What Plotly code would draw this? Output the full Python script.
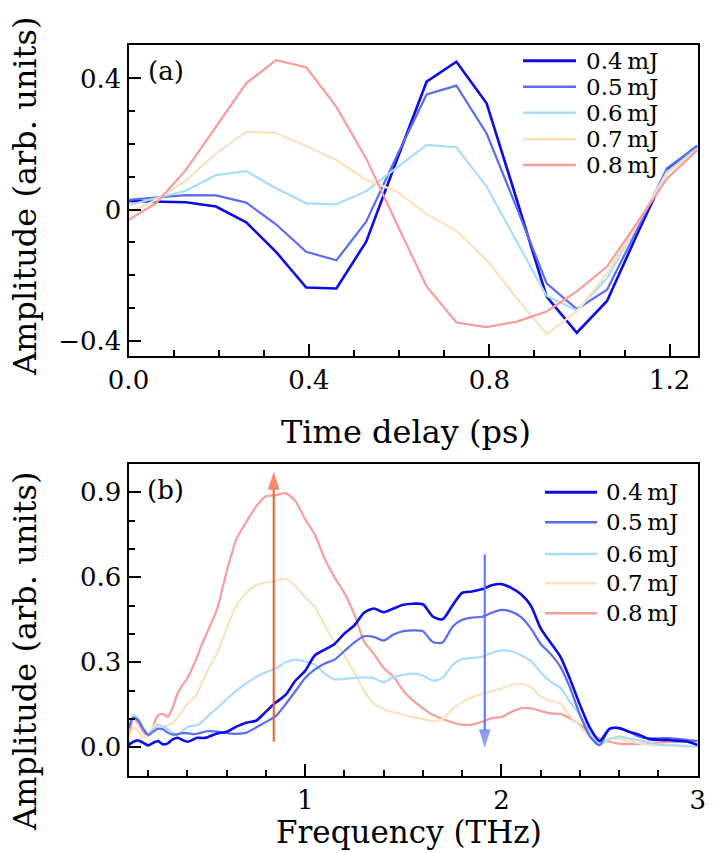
import plotly.graph_objects as go

# ---------------- Panel (a): time-domain waveforms ----------------
time_ps = [-0.006, 0.061, 0.127, 0.194, 0.261, 0.327, 0.394, 0.461, 0.527, 0.594,
           0.661, 0.727, 0.794, 0.861, 0.927, 0.994, 1.061, 1.127, 1.194, 1.261]
amp_04 = [0.026, 0.024, 0.022, 0.009, -0.039, -0.129, -0.238, -0.241, -0.098, 0.148,
          0.39, 0.451, 0.324, 0.029, -0.266, -0.376, -0.279, -0.078, 0.12, 0.194]
amp_05 = [0.029, 0.036, 0.044, 0.043, 0.021, -0.045, -0.129, -0.155, -0.037, 0.161,
          0.351, 0.378, 0.232, 0.004, -0.225, -0.304, -0.245, -0.063, 0.126, 0.194]
amp_06 = [0.012, 0.034, 0.057, 0.105, 0.117, 0.065, 0.019, 0.016, 0.056, 0.127,
          0.197, 0.19, 0.07, -0.098, -0.264, -0.308, -0.21, -0.047, 0.115, 0.187]
amp_07 = [-0.014, 0.029, 0.088, 0.171, 0.237, 0.234, 0.194, 0.151, 0.09, 0.056,
          -0.014, -0.065, -0.154, -0.271, -0.38, -0.311, -0.195, -0.047, 0.11, 0.181]
amp_08 = [-0.037, 0.019, 0.12, 0.251, 0.385, 0.456, 0.434, 0.313, 0.156, -0.041,
          -0.235, -0.345, -0.359, -0.342, -0.311, -0.25, -0.174, -0.042, 0.095, 0.181]

# ---------------- Panel (b): spectra ----------------
freq_thz = [0.1, 0.125, 0.15, 0.175, 0.2, 0.225, 0.25, 0.275, 0.3, 0.325, 0.35, 0.375,
            0.4, 0.425, 0.45, 0.475, 0.5,
            0.55, 0.6, 0.65, 0.7, 0.75, 0.8, 0.85, 0.9, 0.95, 1.0,
            1.05, 1.1, 1.15, 1.2, 1.25, 1.3, 1.35, 1.4, 1.45, 1.5,
            1.55, 1.6, 1.65, 1.7, 1.75, 1.8, 1.85, 1.9, 1.95, 2.0,
            2.05, 2.1, 2.15, 2.2, 2.25, 2.3, 2.35, 2.4, 2.45, 2.5,
            2.55, 2.6, 2.65, 2.7, 2.75, 2.8, 2.85, 2.9, 2.95, 3.0]
spec_04 = [0.008, 0.02, 0.024, 0.016, 0.007, 0.016, 0.022, 0.011, 0.014, 0.028, 0.034, 0.026,
           0.02, 0.026, 0.034, 0.033, 0.035,
           0.049, 0.055, 0.073, 0.087, 0.094, 0.126, 0.158, 0.185, 0.235, 0.27,
           0.325, 0.345, 0.365, 0.402, 0.43, 0.475, 0.49, 0.477, 0.49, 0.503,
           0.507, 0.505, 0.462, 0.452, 0.50, 0.545, 0.55, 0.558, 0.572, 0.576,
           0.563, 0.54, 0.50, 0.42, 0.37, 0.32, 0.24, 0.15, 0.07, 0.022,
           0.065, 0.068, 0.055, 0.045, 0.03, 0.027, 0.026, 0.023, 0.02, 0.008]
spec_05 = [0.067, 0.105, 0.095, 0.065, 0.044, 0.055, 0.066, 0.064, 0.052, 0.045, 0.046, 0.05,
           0.05, 0.047, 0.048, 0.053, 0.057,
           0.056, 0.05, 0.048, 0.052, 0.07, 0.09, 0.11, 0.152, 0.198, 0.245,
           0.275, 0.296, 0.31, 0.34, 0.37, 0.392, 0.39, 0.377, 0.398, 0.41,
           0.413, 0.41, 0.372, 0.37, 0.425, 0.45, 0.458, 0.461, 0.475, 0.485,
           0.479, 0.46, 0.42, 0.365, 0.33, 0.285, 0.21, 0.115, 0.04, 0.008,
           0.065, 0.068, 0.055, 0.038, 0.032, 0.032, 0.033, 0.03, 0.026, 0.022]
spec_06 = [0.061, 0.115, 0.1, 0.07, 0.047, 0.062, 0.078, 0.074, 0.064, 0.052, 0.045, 0.058,
           0.072, 0.076, 0.078, 0.09, 0.108,
           0.138, 0.17, 0.2, 0.227, 0.248, 0.265, 0.278, 0.3, 0.31, 0.303,
           0.292, 0.26, 0.24, 0.242, 0.245, 0.247, 0.244, 0.23, 0.248, 0.256,
           0.26, 0.253, 0.236, 0.245, 0.29, 0.312, 0.316, 0.32, 0.333, 0.342,
           0.34, 0.325, 0.305, 0.265, 0.232, 0.21, 0.16, 0.115, 0.055, 0.01,
           0.028, 0.038, 0.032, 0.025, 0.018, 0.01, 0.008, 0.006, 0.004, 0.003]
spec_07 = [0.028, 0.07, 0.058, 0.034, 0.045, 0.075, 0.083, 0.073, 0.078, 0.085, 0.105, 0.13,
           0.152, 0.17, 0.19, 0.23, 0.268,
           0.33, 0.42, 0.5, 0.545, 0.572, 0.582, 0.588, 0.595, 0.57, 0.53,
           0.495, 0.43, 0.37, 0.325, 0.265, 0.2, 0.155, 0.135, 0.124, 0.115,
           0.107, 0.1, 0.093, 0.1, 0.135, 0.158, 0.177, 0.188, 0.198, 0.208,
           0.22, 0.224, 0.212, 0.18, 0.165, 0.155, 0.11, 0.075, 0.035, 0.018,
           0.033, 0.03, 0.022, 0.015, 0.009, 0.008, 0.006, 0.005, 0.004, 0.003]
spec_08 = [0.014, 0.102, 0.085, 0.055, 0.04, 0.075, 0.113, 0.118, 0.108, 0.14, 0.19, 0.22,
           0.244, 0.28, 0.32, 0.365, 0.405,
           0.485, 0.62, 0.735, 0.795, 0.85, 0.886, 0.89, 0.897, 0.87, 0.805,
           0.75, 0.665, 0.6, 0.545, 0.47, 0.375, 0.33, 0.28, 0.25, 0.2,
           0.165, 0.138, 0.115, 0.1, 0.088, 0.08, 0.08, 0.09, 0.103, 0.107,
           0.125, 0.138, 0.138, 0.128, 0.12, 0.118, 0.102, 0.08, 0.052, 0.032,
           0.02, 0.013, 0.012, 0.012, 0.014, 0.018, 0.019, 0.02, 0.022, 0.024]

# arrows in panel (b): frequency, tail amplitude, head amplitude
arrow_up = [0.84, 0.02, 0.973]
arrow_down = [1.915, 0.681, 0.0]

labels = ["0.4\u2009mJ", "0.5\u2009mJ", "0.6\u2009mJ", "0.7\u2009mJ", "0.8\u2009mJ"]
colors = ["#0a0aea", "#5a6df2", "#aadcfb", "#f9e3be", "#f99c9a"]
widths = [2.6, 2.2, 2.2, 2.2, 2.2]

top_x_ticks = [0, 0.4, 0.8, 1.2]
top_x_text = ["0.0", "0.4", "0.8", "1.2"]
top_y_ticks = [-0.4, 0, 0.4]
top_y_text = ["\u22120.4", "0", "0.4"]
bot_x_ticks = [1, 2, 3]
bot_x_text = ["1", "2", "3"]
bot_y_ticks = [0.0, 0.3, 0.6, 0.9]
bot_y_text = ["0.0", "0.3", "0.6", "0.9"]

FONT = "DejaVu Serif"
W, H = 723, 853

fig = go.Figure()
for vals, c, w in zip([amp_04, amp_05, amp_06, amp_07, amp_08], colors, widths):
    fig.add_trace(go.Scatter(x=time_ps, y=vals, mode="lines", line=dict(color=c, width=w),
                             xaxis="x", yaxis="y", showlegend=False, hoverinfo="skip"))
order = [4, 3, 2, 1, 0]
spec_all = [spec_04, spec_05, spec_06, spec_07, spec_08]
for i in order:
    fig.add_trace(go.Scatter(x=freq_thz, y=spec_all[i], mode="lines",
                             line=dict(color=colors[i], width=widths[i], shape="spline", smoothing=0.7),
                             xaxis="x2", yaxis="y2", showlegend=False, hoverinfo="skip"))

for arr, col in [(arrow_up, "#ef5b2b"), (arrow_down, "#5a72f5")]:
    fig.add_trace(go.Scatter(x=[arr[0], arr[0]], y=[arr[1], arr[2]], mode="lines+markers",
                             line=dict(color=col, width=2),
                             marker=dict(symbol="arrow", size=[0, 19], color=col, angleref="previous",
                                         line=dict(width=0)),
                             xaxis="x2", yaxis="y2", showlegend=False, hoverinfo="skip"))

xdom = [128.5 / W, 697.7 / W]
common = dict(showline=True, linewidth=2, linecolor="black", mirror=True, ticks="inside",
              ticklen=12, tickwidth=2, tickcolor="black", showgrid=False, zeroline=False,
              tickfont=dict(family=FONT, size=26, color="black"), tickmode="array")
minor_y = dict(tickmode="linear", tick0=0, dtick=0.1, ticks="inside", ticklen=6,
               tickwidth=1.5, tickcolor="black")

fig.update_layout(
    width=W, height=H, margin=dict(l=0, r=0, t=0, b=0, autoexpand=False),
    paper_bgcolor="white", plot_bgcolor="white",
    xaxis=dict(domain=xdom, anchor="y", range=[0, 1.262], tickvals=top_x_ticks, ticktext=top_x_text,
               minor=minor_y, **common),
    yaxis=dict(domain=[1 - 356 / H, 1 - 45 / H], anchor="x", range=[-0.447, 0.502],
               tickvals=top_y_ticks, ticktext=top_y_text, minor=minor_y, **common),
    xaxis2=dict(domain=xdom, anchor="y2", range=[0.1, 3.0], tickvals=bot_x_ticks, ticktext=bot_x_text,
                minor=dict(tickmode="linear", tick0=0, dtick=0.2, ticks="inside", ticklen=6,
                           tickwidth=1.5, tickcolor="black"), **common),
    yaxis2=dict(domain=[1 - 776 / H, 1 - 464 / H], anchor="x2", range=[-0.101, 1.0],
                tickvals=bot_y_ticks, ticktext=bot_y_text, minor=minor_y, **common),
)

ann = []
def txt(x, y, s, size, xanchor="center", yanchor="middle", angle=0):
    ann.append(dict(x=x / W, y=1 - y / H, xref="paper", yref="paper", text=s, showarrow=False,
                    xanchor=xanchor, yanchor=yanchor, textangle=angle,
                    font=dict(family=FONT, size=size, color="black")))

txt(406, 432, "Time delay (ps)", 32)
txt(409, 832, "Frequency (THz)", 31)
txt(25, 197, "Amplitude (arb. units)", 32, angle=-90)
txt(25, 652, "Amplitude (arb. units)", 32, angle=-90)
txt(146, 71, "(a)", 26, xanchor="left")
txt(145, 490, "(b)", 26, xanchor="left")

shapes = []
top_rows = [60.7, 86.7, 112.7, 139.3, 165.0]
bot_rows = [492.3, 522.3, 554.0, 583.3, 613.3]
for rows, x0, x1, xt in [(top_rows, 523, 576, 584), (bot_rows, 545, 597, 604)]:
    for lab, c, w, yy in zip(labels, colors, widths, rows):
        shapes.append(dict(type="line", xref="paper", yref="paper", x0=x0 / W, x1=x1 / W,
                           y0=1 - yy / H, y1=1 - yy / H, line=dict(color=c, width=w + 0.3)))
        txt(xt, yy, lab, 23, xanchor="left")

fig.update_layout(annotations=ann, shapes=shapes)
fig.write_html("out.html", config={"displayModeBar": False},
               post_script="document.body.style.margin='0px';")
